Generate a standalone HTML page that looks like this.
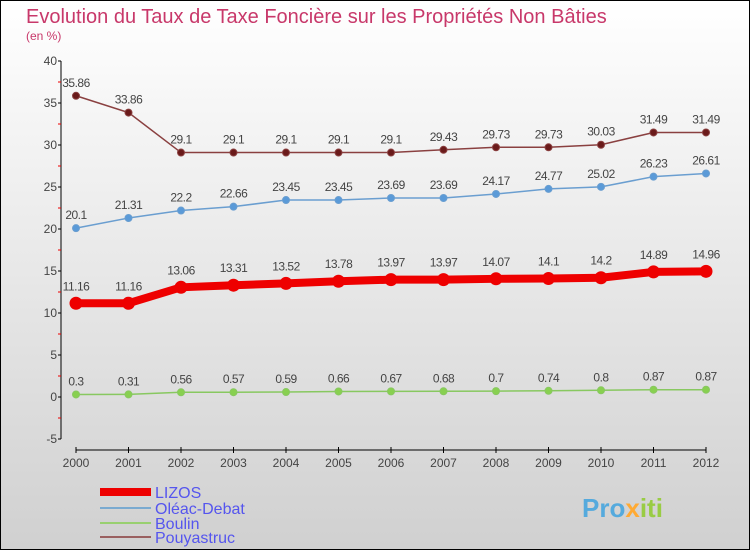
<!DOCTYPE html>
<html><head><meta charset="utf-8"><style>
body{margin:0}
#c{width:750px;height:550px;position:relative;overflow:hidden;font-family:"Liberation Sans",sans-serif}
</style></head><body>
<div id="c">
<svg id="s" width="750" height="550" xmlns="http://www.w3.org/2000/svg">
<defs><linearGradient id="bg" x1="0" y1="0" x2="0" y2="1"><stop offset="0" stop-color="#ffffff"/><stop offset="1" stop-color="#d0d0d0"/></linearGradient></defs>
<rect x="0.5" y="0.5" width="749" height="549" fill="url(#bg)" stroke="#000"/>
<text x="26" y="23" font-size="20" fill="#c8386a" font-weight="normal">Evolution du Taux de Taxe Foncière sur les Propriétés Non Bâties</text>
<text x="26" y="40" font-size="12" fill="#c8386a">(en %)</text>
<g id="axes"></g><g id="series"></g>
<g font-size="16" fill="#5555ee">
<rect x="100" y="488" width="51" height="8" fill="#ee0000"/>
<text x="155" y="498">LIZOS</text>
<rect x="100" y="507" width="51" height="2" fill="#7aaad0"/>
<text x="155" y="514">Oléac-Debat</text>
<rect x="100" y="522" width="51" height="2" fill="#99d070"/>
<text x="155" y="529">Boulin</text>
<rect x="100" y="536" width="51" height="2" fill="#9a6060"/>
<text x="155" y="543">Pouyastruc</text>
</g>
<text x="582" y="517" font-size="26" font-weight="bold" fill="#55aadd">Pro<tspan fill="#ffaa33">x</tspan><tspan fill="#99cc44">iti</tspan></text>
</svg></div>
<script>
const years=[2000,2001,2002,2003,2004,2005,2006,2007,2008,2009,2010,2011,2012];
const lizos=[11.16,11.16,13.06,13.31,13.52,13.78,13.97,13.97,14.07,14.1,14.2,14.89,14.96];
const oleac=[20.1,21.31,22.2,22.66,23.45,23.45,23.69,23.69,24.17,24.77,25.02,26.23,26.61];
const boulin=[0.3,0.31,0.56,0.57,0.59,0.66,0.67,0.68,0.7,0.74,0.8,0.87,0.87];
const pouy=[35.86,33.86,29.1,29.1,29.1,29.1,29.1,29.43,29.73,29.73,30.03,31.49,31.49];
const yTicks=[-5,0,5,10,15,20,25,30,35,40];
const NS="http://www.w3.org/2000/svg";
const X=i=>76+i*52.5, Y=v=>397-v*8.4;
function mk(t,a,p){const e=document.createElementNS(NS,t);for(const k in a)e.setAttribute(k,a[k]);if(p)p.appendChild(e);return e;}
const ax=document.getElementById('axes'), sg=document.getElementById('series');
let l=mk('line',{x1:61,y1:Y(40),x2:61,y2:Y(-5),stroke:'#000'},ax);

yTicks.forEach(v=>{mk('line',{x1:58,x2:61,y1:Y(v),y2:Y(v),stroke:'#000'},ax);
 if(v<40)mk('line',{x1:58,x2:61,y1:Y(v+2.5),y2:Y(v+2.5),stroke:'#e00'},ax);
 const t=mk('text',{x:57,y:Y(v)+4,'text-anchor':'end','font-size':12,fill:'#444'},ax);t.textContent=v;
 });
l=mk('line',{x1:X(0),x2:X(12),y1:450,y2:450,stroke:'#000'},ax);

years.forEach((y,i)=>{mk('line',{x1:X(i),x2:X(i),y1:447,y2:453,stroke:'#000'},ax);
 const t=mk('text',{x:X(i),y:467,'text-anchor':'middle','font-size':12,fill:'#444'},ax);t.textContent=y;
 });
function series(d,name,col,dot,w,r,off){
 const g=mk('g',{},sg);
 mk('polyline',{points:d.map((v,i)=>X(i)+','+Y(v)).join(' '),fill:'none',stroke:col,'stroke-width':w},g);
 d.forEach((v,i)=>{const c=mk('circle',{cx:X(i),cy:Y(v),r:r,fill:dot,stroke:col},g);
  
  const t=mk('text',{x:X(i),y:Y(v)-off,'text-anchor':'middle','font-size':12,fill:'#444','letter-spacing':'-0.5'},g);t.textContent=v;
  });
}
series(pouy,'pouyastruc','#8a4040','#6a1a1a',1.5,3.5,9);
series(oleac,'oleac-debat','#6a9ed0','#5a9ad8',1.5,3.5,9);
series(lizos,'lizos','#ee0000','#ee0000',8,6,13);
series(boulin,'boulin','#88c860','#88d050',1.5,3.5,9);
</script></body></html>
